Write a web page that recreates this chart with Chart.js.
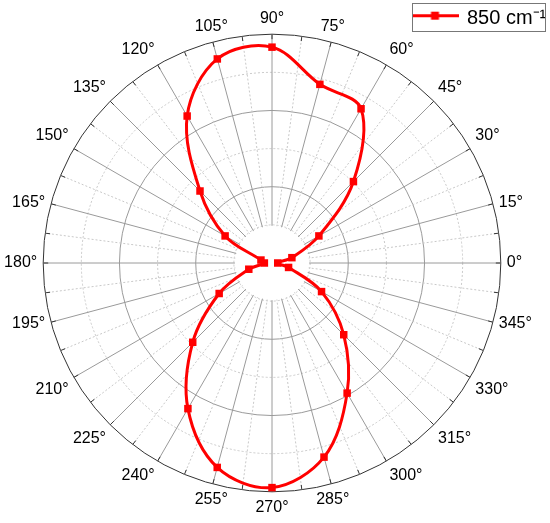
<!DOCTYPE html>
<html>
<head>
<meta charset="utf-8">
<script src="https://cdn.jsdelivr.net/npm/chart.js@4.4.1/dist/chart.umd.min.js"></script>
<style>
    html, body { margin: 0; padding: 0; background: #fff; }
    #wrap { width: 550px; height: 523px; position: relative; }
</style>
</head>
<body>
<div id="wrap"><canvas id="polarChart"></canvas></div>
<script>
// Polar angles in degrees (0 = right, counter-clockwise)
const angles = [0, 15, 30, 45, 60, 75, 90, 105, 120, 135, 150, 165,
                180, 195, 210, 225, 240, 255, 270, 285, 300, 315, 330, 345];
// Intensity read at each angle
const intensity = [0.15, 0.54, 1.42, 3.02, 4.67, 4.85, 5.66, 5.54, 4.45, 2.67, 1.42, 0.30,
                   0.20, 0.63, 1.60, 2.94, 4.41, 5.55, 5.89, 5.27, 3.94, 2.66, 1.50, 0.45];
const radialTicks = [0, 1, 2, 3, 4, 5, 6];
const seriesName = '850 cm\u207B\u00B9';

const RED = '#ff0000';
const FONT = 'Liberation Sans, Arial, sans-serif';

// Chart.js radar runs clockwise from the start angle, so walk the circle backwards.
// Half steps (7.5 deg) get an empty label so a dotted spoke is drawn there.
const labels = [];
const values = [];
const polarOf = [];
for (let i = 0; i < 48; i++) {
    const deg = (360 - i * 7.5) % 360;
    const k = angles.indexOf(deg);
    polarOf.push(deg);
    labels.push(k >= 0 ? deg + '\u00B0' : '');
    values.push(k >= 0 ? intensity[k] : null);
}

// legend icon: line with a square marker
const legendIcon = document.createElement('canvas');
legendIcon.width = 47;
legendIcon.height = 16;
(function () {
    const c = legendIcon.getContext('2d');
    c.strokeStyle = RED;
    c.lineWidth = 3;
    c.beginPath();
    c.moveTo(0, 5.7);
    c.lineTo(47, 5.7);
    c.stroke();
    c.fillStyle = RED;
    c.fillRect(19.5, 1.7, 8, 8);
})();

// labels near the vertical axis are centred over their spoke,
// labels near the horizontal axis are centred beside it
function placeAngleLabels(scale) {
    const items = scale._pointLabelItems || [];
    items.forEach((item, i) => {
        const deg = polarOf[i];
        const h = item.bottom - item.top;
        const w = item.right - item.left;
        if (deg === 75 || deg === 105 || deg === 255 || deg === 285) {
            item.textAlign = 'center';
            item.left = item.x - w / 2;
            item.right = item.left + w;
        }
        let dy = 0;
        if (deg === 15 || deg === 165) dy = h / 2;
        if (deg === 195 || deg === 345) dy = -h / 2;
        item.y += dy;
        item.top += dy;
        item.bottom += dy;
    });
}

// white hole in the middle, small ticks on the outer ring, legend frame
const polarExtras = {
    id: 'polarExtras',
    afterLayout(chart) {
        const lg = chart.legend;
        lg.left = 412;
        lg.top = 7;
        lg.right = 546;
        lg.bottom = 32;
    },
    beforeDatasetsDraw(chart) {
        const r = chart.scales.r;
        const ctx = chart.ctx;
        ctx.save();
        ctx.fillStyle = '#fff';
        ctx.beginPath();
        ctx.arc(r.xCenter, r.yCenter, r.getDistanceFromCenterForValue(1) - 1, 0, Math.PI * 2);
        ctx.fill();

        const outer = r.getDistanceFromCenterForValue(r.max);
        ctx.strokeStyle = '#333';
        ctx.lineWidth = 1;
        for (let i = 0; i < labels.length; i++) {
            const a = r.getPointPosition(i, outer);
            const b = r.getPointPosition(i, outer - 5);
            ctx.beginPath();
            ctx.moveTo(a.x, a.y);
            ctx.lineTo(b.x, b.y);
            ctx.stroke();
        }
        ctx.restore();
    },
    afterDraw(chart) {
        const ctx = chart.ctx;
        ctx.save();
        ctx.strokeStyle = '#777';
        ctx.lineWidth = 1;
        ctx.strokeRect(412.5, 3.5, 133, 28);
        ctx.restore();
    }
};

const ctx = document.getElementById('polarChart').getContext('2d');
new Chart(ctx, {
    type: 'radar',
    data: {
        labels: labels,
        datasets: [{
            label: seriesName,
            data: values,
            spanGaps: true,
            borderColor: RED,
            borderWidth: 3,
            tension: 0.35,
            fill: false,
            pointStyle: 'rect',
            pointRadius: 5.3,
            pointBorderWidth: 0,
            pointBackgroundColor: RED
        }]
    },
    options: {
        responsive: true,
        maintainAspectRatio: false,
        animation: false,
        layout: {
            padding: { left: 0, right: 14, top: 10, bottom: 5 }
        },
        scales: {
            r: {
                min: radialTicks[0],
                max: radialTicks[radialTicks.length - 1],
                startAngle: 90,
                afterFit: placeAngleLabels,
                ticks: { display: false, stepSize: 1 },
                grid: {
                    circular: true,
                    lineWidth: 1,
                    color: (c) => c.tick.value === 6 ? '#333' : (c.tick.value % 2 ? '#c8c8c8' : '#9a9a9a')
                },
                border: {
                    dash: (c) => c.tick.value % 2 ? [2, 2] : []
                },
                angleLines: {
                    lineWidth: 1,
                    color: (c) => c.index % 2 ? '#c8c8c8' : '#9a9a9a',
                    borderDash: (c) => c.index % 2 ? [2, 2] : []
                },
                pointLabels: {
                    color: '#000',
                    padding: 6,
                    font: { family: FONT, size: 16 }
                }
            }
        },
        plugins: {
            tooltip: { enabled: false },
            legend: {
                position: 'chartArea',
                align: 'start',
                labels: {
                    usePointStyle: true,
                    pointStyleWidth: 44,
                    padding: 1,
                    color: '#000',
                    font: { family: FONT, size: 20 },
                    generateLabels: () => [{
                        text: seriesName,
                        pointStyle: legendIcon,
                        fillStyle: RED,
                        strokeStyle: RED,
                        lineWidth: 0,
                        fontColor: '#000',
                        datasetIndex: 0
                    }]
                }
            }
        }
    },
    plugins: [polarExtras]
});
</script>
</body>
</html>
